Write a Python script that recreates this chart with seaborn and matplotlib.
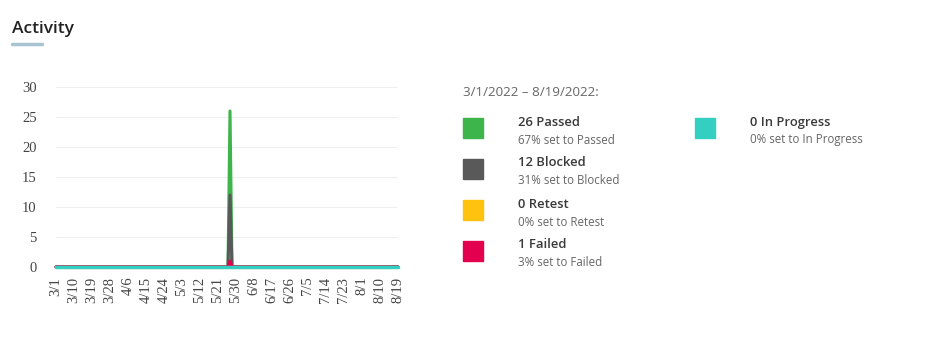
import pandas as pd
import numpy as np
import matplotlib.pyplot as plt
import seaborn as sns
from matplotlib.patches import Rectangle
from matplotlib.lines import Line2D

# daily activity, 3/1/2022 - 8/19/2022
start_date = "2022-03-01"
end_date = "2022-08-19"
spike_date = "2022-05-27"

statuses = ["Passed", "Blocked", "Retest", "Failed", "In Progress"]
spike_counts = [26, 12, 0, 1, 0]
totals = [26, 12, 0, 1, 0]
percents = [67, 31, 0, 3, 0]
colors = ["#3db54a", "#595959", "#ffc20e", "#e3004f", "#33cfc0"]

dates = pd.date_range(start_date, end_date, freq="D")
tick_labels = [f"{d.month}/{d.day}" for d in dates[::9]]

rows = []
for status, peak in zip(statuses, spike_counts):
    for i, d in enumerate(dates):
        rows.append({"day": i, "status": status,
                     "count": peak if d == pd.Timestamp(spike_date) else 0})
df = pd.DataFrame(rows)

sns.set_style("white")
plt.rcParams["font.family"] = ["Open Sans", "DejaVu Sans"]

W, H = 928, 338
fig = plt.figure(figsize=(W / 100, H / 100), dpi=100)

def px(x, y):
    return x / W, 1 - y / H

ax = fig.add_axes([56 / W, 1 - 267 / H, (398 - 56) / W, (267 - 87) / H])

# draw order: passed, blocked, failed, retest, in progress on top
draw_order = ["Passed", "Blocked", "Failed", "Retest", "In Progress"]
widths = {"Passed": 2.2, "Blocked": 2.2, "Failed": 2.2, "Retest": 2.2, "In Progress": 2.5}
for status in draw_order:
    sub = df[df["status"] == status]
    sns.lineplot(data=sub, x="day", y="count", ax=ax,
                 color=colors[statuses.index(status)],
                 lw=widths[status], clip_on=False, legend=False)

ax.set_xlim(0, len(dates) - 1)
ax.set_ylim(0, 30)
ax.set_yticks(range(0, 31, 5))
ax.set_xticks(range(0, len(dates), 9))
ax.set_xticklabels(tick_labels, rotation=90)
for lbl in ax.get_xticklabels() + ax.get_yticklabels():
    lbl.set_family("Liberation Serif")
    lbl.set_fontsize(10.5)
    lbl.set_color("#444444")
ax.tick_params(axis="x", length=0, pad=7)
ax.tick_params(axis="y", length=0, pad=14)
ax.set_xlabel("")
ax.set_ylabel("")
for s in ax.spines.values():
    s.set_visible(False)
ax.yaxis.grid(True, color="#efefef", lw=0.8)
ax.set_axisbelow(True)

# title with underline
fig.text(*px(12, 29), "Activity", fontsize=12.5, color="#222222",
         fontweight="semibold", va="center", ha="left")
fig.add_artist(Line2D([12 / W, 42 / W], [1 - 43.5 / H] * 2,
                      color="#a9c4d1", lw=2.5))

# legend panel
fig.text(*px(463, 92), "3/1/2022 \u2013 8/19/2022:", fontsize=9.6,
         color="#666666", va="center", ha="left")

slots = [(463, 118), (463, 159), (463, 200), (463, 241), (695, 118)]
for (sx, sy), status, total, pct, c in zip(slots, statuses, totals, percents, colors):
    fig.add_artist(Rectangle(px(sx, sy + 20), 20 / W, 20 / H, color=c,
                             transform=fig.transFigure))
    fig.text(*px(sx + 55, sy + 4), f"{total} {status}", fontsize=9.4,
             color="#3a3a3a", fontweight="semibold", va="center", ha="left")
    fig.text(*px(sx + 55, sy + 22), f"{pct}% set to {status}", fontsize=8.3,
             color="#666666", va="center", ha="left")

fig.savefig("out.png", dpi=100)
